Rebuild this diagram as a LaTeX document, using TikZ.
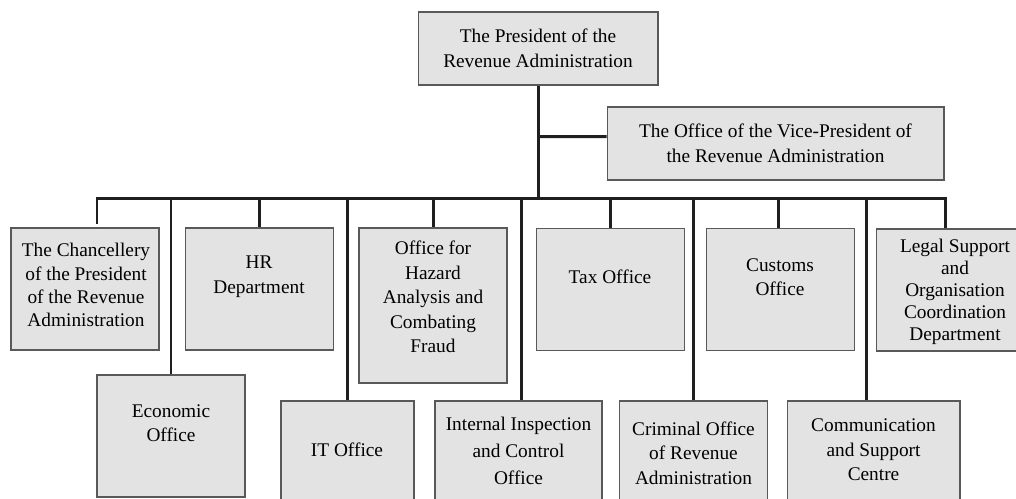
\documentclass[tikz,border=0pt]{standalone}
\usepackage{fontspec}
\setmainfont{Liberation Serif}
\usetikzlibrary{positioning}

\begin{document}
\begin{tikzpicture}[x=0.02cm,y=-0.02cm,
  unit/.style={draw=black!65,fill=black!11,line width=0.6pt,minimum width=2.96cm,minimum height=2.44cm,inner sep=0pt},
  lbl/.style={align=center,inner sep=0pt},
  every node/.style={font=\fontsize{11}{14}\selectfont},
  link/.style={line width=1.7pt,black!88}]
\useasboundingbox (0,0) rectangle (1016,498);

\node[unit,lbl,minimum width=4.8cm,minimum height=1.46cm] (pres) at (538,48.5) {The President of the\\Revenue Administration};
\node[unit,lbl,minimum width=6.74cm,minimum height=1.46cm] (vp) at (775.5,143.5) {The Office of the Vice-President of\\the Revenue Administration};

% first row
\node[unit] (chan) at (85,289) {};
\node[unit] (hr) at (259.5,289) {};
\node[unit,minimum height=3.1cm] (haz) at (433,305.5) {};
\node[unit] (tax) at (610.5,289.5) {};
\node[unit] (cust) at (780.5,289.5) {};
\node[unit,minimum width=3.16cm] (legal) at (955,290) {};

\node[lbl,font=\fontsize{11}{13.2}\selectfont] (chanT) at (86,285) {The Chancellery\\of the President\\of the Revenue\\Administration};
\node[lbl] (hrT) at (259,276.5) {HR\\Department};
\node[lbl] (hazT) at (433,297) {Office for\\Hazard\\Analysis and\\Combating\\Fraud};
\node[lbl] (taxT) at (610,277) {Tax Office};
\node[lbl] (custT) at (780,277) {Customs\\Office};
\node[lbl,font=\fontsize{11}{12.6}\selectfont] (legalT) at (955,292) {Legal Support\\and\\Organisation\\Coordination\\Department};

% second row
\node[unit] (econ) at (171,436) {};
\node[unit,minimum width=2.66cm] (it) at (347.5,462) {};
\node[unit,minimum width=3.34cm] (insp) at (518.5,462) {};
\node[unit] (crim) at (693.5,462) {};
\node[unit,minimum width=3.46cm] (comm) at (873.5,462) {};

\node[lbl] (econT) at (171,423) {Economic\\Office};
\node[lbl] (itT) at (347,450) {IT Office};
\node[lbl,font=\fontsize{11}{15.3}\selectfont] (inspT) at (518.5,451) {Internal Inspection\\and Control\\Office};
\node[lbl] (crimT) at (693.5,453) {Criminal Office\\of Revenue\\Administration};
\node[lbl] (commT) at (873.5,450) {Communication\\and Support\\Centre};

\coordinate (barL) at (97,198);
\coordinate (barR) at (945,198);

\draw[link] (pres.south) -- (pres.south |- barL);
\draw[link] (pres.south |- vp.west) ++(0,-7) -- ([yshift=0.14cm]vp.west);
\draw[link] ([yshift=0.06cm]barL |- chan.north) -- (barL) -- (barR) -- (barR |- legal.north);
\draw[link] (hr.north |- barL) -- (hr.north);
\draw[link] (haz.north |- barL) -- (haz.north);
\draw[link] (tax.north |- barL) -- (tax.north);
\draw[link] ([xshift=-0.05cm]cust.north |- barL) -- ([xshift=-0.05cm]cust.north);
\draw[link] (econ.north |- barL) -- (econ.north);
\draw[link] (it.north |- barL) -- (it.north);
\draw[link] ([xshift=0.05cm]insp.north |- barL) -- ([xshift=0.05cm]insp.north);
\draw[link] (crim.north |- barL) -- (crim.north);
\draw[link] ([xshift=-0.15cm]comm.north |- barL) -- ([xshift=-0.15cm]comm.north);
\end{tikzpicture}
\end{document}
